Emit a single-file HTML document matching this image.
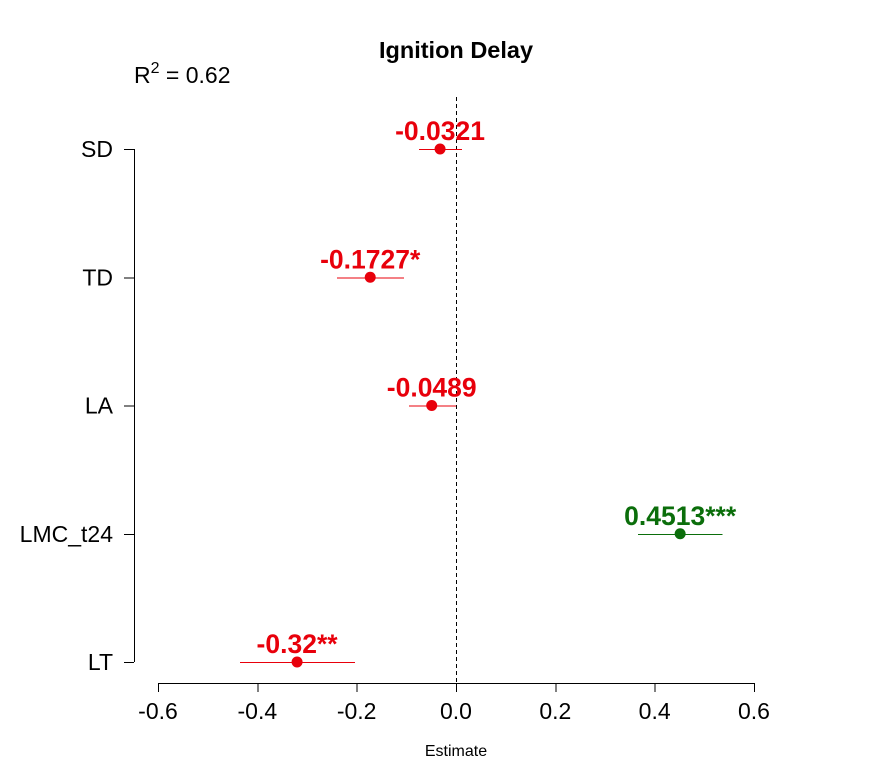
<!DOCTYPE html>
<html><head><meta charset="utf-8"><style>body{margin:0;background:#fff}svg{display:block;font-family:"Liberation Sans",Arial,sans-serif}</style></head>
<body>
<svg id="chart" width="875" height="780" viewBox="0 0 875 780">
<text x="456" y="58" text-anchor="middle" font-weight="bold" font-size="23.5">Ignition Delay</text>
<text x="134" y="83" font-size="23">R<tspan dy="-10" font-size="16">2</tspan><tspan dy="10"> = 0.62</tspan></text>
<text x="456" y="756" text-anchor="middle" font-size="16">Estimate</text>
<g id="g" shape-rendering="crispEdges"></g>
<g id="g2"></g>
</svg>
<script>
const categories = ["SD","TD","LA","LMC_t24","LT"];
const estimates = [-0.0321,-0.1727,-0.0489,0.4513,-0.32];
const lowers = [-0.0745,-0.240,-0.0946,0.366,-0.435];
const uppers = [0.0121,-0.105,0.0,0.537,-0.203];
const labels = ["-0.0321","-0.1727*","-0.0489","0.4513***","-0.32**"];
const xTicks = [-0.6,-0.4,-0.2,0.0,0.2,0.4,0.6];
const NS="http://www.w3.org/2000/svg";
const g=document.getElementById('g');
const g2=document.getElementById('g2');
const xs=v=>456+v*(298/0.6);
const ys=i=>149+i*(662-149)/(categories.length-1);
function mk(t,a,p){const e=document.createElementNS(NS,t);for(const k in a)e.setAttribute(k,a[k]);(p||g).appendChild(e);return e;}
let e=mk('line',{x1:xs(0)+0.5,x2:xs(0)+0.5,y1:97,y2:683,stroke:'#000','stroke-dasharray':'4,3','stroke-width':1});


e=mk('line',{x1:134.5,x2:134.5,y1:ys(0),y2:ys(categories.length-1),stroke:'#000'});


e=mk('line',{x1:xs(xTicks[0]),x2:xs(xTicks[xTicks.length-1]),y1:683.5,y2:683.5,stroke:'#000'});


xTicks.forEach(t=>{
 let l=mk('line',{x1:xs(t)+0.5,x2:xs(t)+0.5,y1:683,y2:692,stroke:'#000'});
 
 
 let tx=mk('text',{x:xs(t),y:719,'text-anchor':'middle','font-size':23},g2);
 tx.textContent=t.toFixed(1);
 
 
});
categories.forEach((c,i)=>{
 const y=ys(i);
 let l=mk('line',{x1:124,x2:134,y1:y+0.5,y2:y+0.5,stroke:'#000'});
 
 
 let tx=mk('text',{x:113,y:y+8,'text-anchor':'end','font-size':23},g2);
 tx.textContent=c;
 
 
 const col=estimates[i]>0?'#0b6e0b':'#e8000b';
 let b=mk('line',{x1:xs(lowers[i]),x2:xs(uppers[i]),y1:y+0.5,y2:y+0.5,stroke:col,'stroke-width':1});
 
 
 let p=mk('circle',{cx:xs(estimates[i]),cy:y,r:5.5,fill:col},g2);
 
 
 let lb=mk('text',{x:xs(estimates[i]),y:y-9,'text-anchor':'middle','font-size':26.5,'font-weight':'bold',fill:col},g2);
 lb.textContent=labels[i];
 
 
});
</script>
</body></html>
